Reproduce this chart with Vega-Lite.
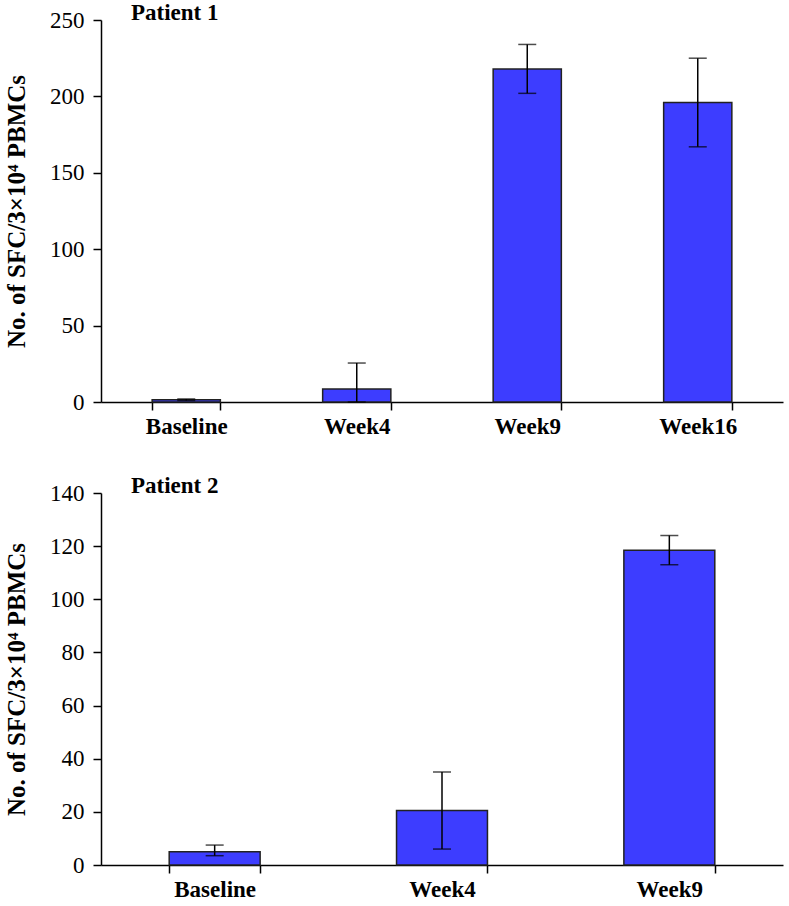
{
  "$schema": "https://vega.github.io/schema/vega-lite/v6.json",
  "background": "white",
  "padding": {"left": 4, "top": 2, "right": 5, "bottom": 0},
  "spacing": 37,
  "config": {
    "view": {"stroke": null},
    "font": "Liberation Serif",
    "axis": {
      "domainColor": "black",
      "domainWidth": 1.5,
      "tickColor": "black",
      "tickWidth": 1.5,
      "tickSize": 8,
      "grid": false,
      "labelFont": "Liberation Serif",
      "labelColor": "black",
      "titleFont": "Liberation Serif",
      "titleColor": "black"
    },
    "axisX": {"labelFontSize": 23, "labelFontWeight": "bold", "labelAngle": 0, "labelPadding": 5, "tickBand": "extent"},
    "axisY": {"labelFontSize": 23, "labelPadding": 9, "titleFontSize": 25, "titleFontWeight": "bold", "titlePadding": 20}
  },
  "datasets": {
    "p1": [
      {"t": "Baseline", "v": 1.5, "lo": 1, "hi": 2},
      {"t": "Week4", "v": 8.5, "lo": 0, "hi": 25.5},
      {"t": "Week9", "v": 218, "lo": 202, "hi": 234},
      {"t": "Week16", "v": 196, "lo": 167, "hi": 225}
    ],
    "p2": [
      {"t": "Baseline", "v": 5, "lo": 3.5, "hi": 7.5},
      {"t": "Week4", "v": 20.5, "lo": 6, "hi": 35},
      {"t": "Week9", "v": 118.5, "lo": 113, "hi": 124}
    ]
  },
  "vconcat": [
    {
      "width": 682,
      "height": 382,
      "data": {"name": "p1"},
      "title": {"text": "Patient 1", "anchor": "start", "frame": "group", "dx": 30, "fontSize": 23, "fontWeight": "bold", "font": "Liberation Serif", "color": "black", "offset": -16},
      "encoding": {
        "x": {"field": "t", "type": "nominal", "sort": null, "title": null, "scale": {"paddingInner": 0.6, "paddingOuter": 0.3}}
      },
      "layer": [
        {
          "mark": {"type": "bar", "fill": "#3d3dff", "stroke": "#222222", "strokeWidth": 1.5},
          "encoding": {"y": {"field": "v", "type": "quantitative", "title": "No. of SFC/3×10⁴ PBMCs", "scale": {"domain": [0, 250], "nice": false}, "axis": {"values": [0, 50, 100, 150, 200, 250]}}}
        },
        {
          "mark": {"type": "rule", "color": "black", "strokeWidth": 1.5},
          "encoding": {"y": {"field": "lo", "type": "quantitative", "title": "No. of SFC/3×10⁴ PBMCs"}, "y2": {"field": "hi"}}
        },
        {
          "mark": {"type": "tick", "color": "black", "thickness": 1.5, "size": 18},
          "encoding": {"y": {"field": "hi", "type": "quantitative", "title": "No. of SFC/3×10⁴ PBMCs"}}
        },
        {
          "mark": {"type": "tick", "color": "black", "thickness": 1.5, "size": 18},
          "encoding": {"y": {"field": "lo", "type": "quantitative", "title": "No. of SFC/3×10⁴ PBMCs"}}
        }
      ]
    },
    {
      "width": 682,
      "height": 372,
      "data": {"name": "p2"},
      "title": {"text": "Patient 2", "anchor": "start", "frame": "group", "dx": 30, "fontSize": 23, "fontWeight": "bold", "font": "Liberation Serif", "color": "black", "offset": -16},
      "encoding": {
        "x": {"field": "t", "type": "nominal", "sort": null, "title": null, "scale": {"paddingInner": 0.6, "paddingOuter": 0.3}}
      },
      "layer": [
        {
          "mark": {"type": "bar", "fill": "#3d3dff", "stroke": "#222222", "strokeWidth": 1.5},
          "encoding": {"y": {"field": "v", "type": "quantitative", "title": "No. of SFC/3×10⁴ PBMCs", "scale": {"domain": [0, 140], "nice": false}, "axis": {"values": [0, 20, 40, 60, 80, 100, 120, 140]}}}
        },
        {
          "mark": {"type": "rule", "color": "black", "strokeWidth": 1.5},
          "encoding": {"y": {"field": "lo", "type": "quantitative", "title": "No. of SFC/3×10⁴ PBMCs"}, "y2": {"field": "hi"}}
        },
        {
          "mark": {"type": "tick", "color": "black", "thickness": 1.5, "size": 18},
          "encoding": {"y": {"field": "hi", "type": "quantitative", "title": "No. of SFC/3×10⁴ PBMCs"}}
        },
        {
          "mark": {"type": "tick", "color": "black", "thickness": 1.5, "size": 18},
          "encoding": {"y": {"field": "lo", "type": "quantitative", "title": "No. of SFC/3×10⁴ PBMCs"}}
        }
      ]
    }
  ]
}
